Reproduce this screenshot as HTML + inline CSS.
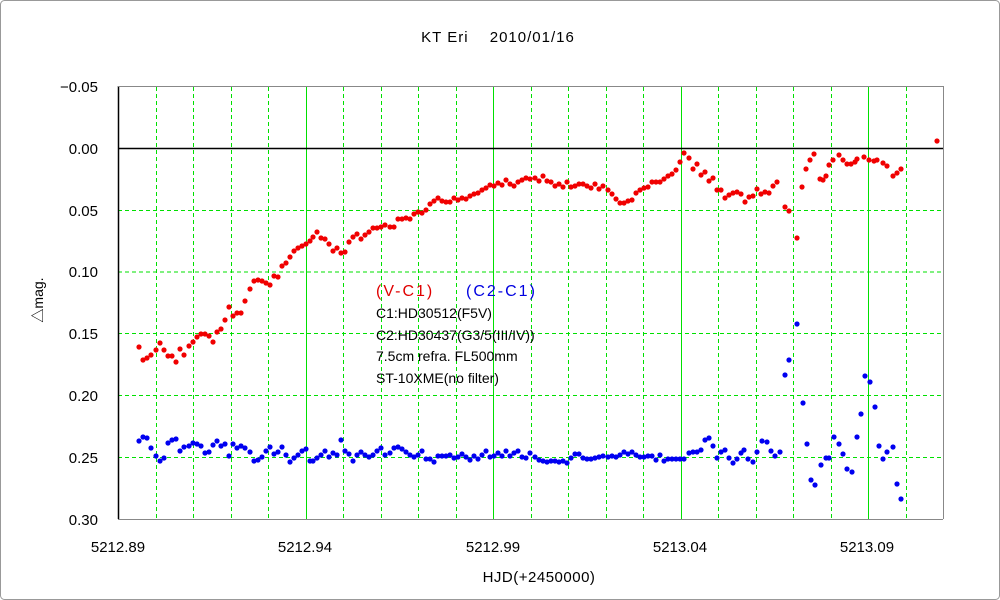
<!DOCTYPE html>
<html><head><meta charset="utf-8"><style>
body{margin:0;background:#fff}
svg{display:block;font-family:"Liberation Sans","Noto Sans CJK JP",sans-serif}
</style></head><body>
<svg id="s" width="1000" height="600" xmlns="http://www.w3.org/2000/svg">
<rect x="0.5" y="0.5" width="999" height="599" rx="4" fill="#fff" stroke="#999"/>
<g id="grid"></g>
<line x1="118" y1="148.5" x2="943" y2="148.5" stroke="#000" stroke-width="1.5"/>
<line x1="118.5" y1="86" x2="118.5" y2="519" stroke="#000" stroke-width="1.5"/>
<line x1="118" y1="86.5" x2="943" y2="86.5" stroke="#888"/>
<line x1="943.5" y1="86" x2="943.5" y2="519" stroke="#888"/>
<line x1="118" y1="519.5" x2="943" y2="519.5" stroke="#888"/>
<g id="pts"></g>
<g font-size="15" fill="#000">
<text x="498" y="42" text-anchor="middle" letter-spacing="1">KT Eri　 2010/01/16</text>
<g text-anchor="end">
<text x="98" y="92">−0.05</text><text x="98" y="154">0.00</text><text x="98" y="216">0.05</text>
<text x="98" y="277">0.10</text><text x="98" y="339">0.15</text><text x="98" y="401">0.20</text>
<text x="98" y="463">0.25</text><text x="98" y="525">0.30</text></g>
<g text-anchor="middle">
<text x="118" y="552">5212.89</text><text x="305" y="552">5212.94</text><text x="493" y="552">5212.99</text>
<text x="680" y="552">5213.04</text><text x="867" y="552">5213.09</text>
<text x="539" y="582" letter-spacing="0.5">HJD(+2450000)</text></g>
<text transform="translate(43,300) rotate(-90)" text-anchor="middle" font-size="14">△mag.</text>
<text x="376" y="296" fill="#e00000" font-size="16" letter-spacing="2">(V-C1)</text>
<text x="466" y="296" fill="#0000e0" font-size="16" letter-spacing="2">(C2-C1)</text>
<text x="376" y="318" font-size="14">C1:HD30512(F5V)</text>
<text x="376" y="340" font-size="14">C2:HD30437(G3/5(III/IV))</text>
<text x="376" y="361" font-size="14">7.5cm refra. FL500mm</text>
<text x="376" y="383" font-size="14">ST-10XME(no filter)</text>
</g>
</svg>
<script>
var NS="http://www.w3.org/2000/svg",g=document.getElementById("grid"),p=document.getElementById("pts");
function L(a,b,c,d,col,dash){var l=document.createElementNS(NS,"line");l.setAttribute("x1",a);l.setAttribute("y1",b);l.setAttribute("x2",c);l.setAttribute("y2",d);l.setAttribute("stroke",col);if(dash)l.setAttribute("stroke-dasharray","4,3");g.appendChild(l);}
for(var i=1;i<22;i++){var x=Math.round(118+i*37.5)+0.5;var maj=(i%5==0);L(x,87,x,519,"#00e000",!maj);}
[210,271.5,333,395,457].forEach(function(y){L(118,y+0.5,943,y+0.5,"#00e000",true);});
var red=[[139,347],[143,360],[147,358],[151,355],[156,350],[160,343],[164,350],[168,356],[172,356],[176,362],[180,349],[184,355],[189,346],[193,342],[197,337],[201,334],[205,334],[209,336],[213,342],[217,332],[221,329],[225,320],[229,307],[233,316],[237,313],[241,313],[245,301],[250,289],[254,281],[258,280],[262,281],[266,283],[270,285],[274,276],[278,277],[282,266],[286,263],[290,257],[294,251],[298,248],[302,246],[306,244],[310,241],[313,237],[317,232],[321,238],[325,239],[329,244],[333,251],[337,248],[341,253],[345,252],[349,242],[353,237],[357,234],[361,239],[365,235],[369,232],[373,228],[377,228],[381,227],[385,225],[390,227],[394,227],[398,219],[402,219],[406,218],[410,219],[414,214],[418,212],[422,213],[426,210],[430,204],[434,201],[438,198],[442,201],[446,202],[450,202],[454,198],[458,200],[462,198],[466,199],[470,196],[474,194],[478,193],[482,190],[486,188],[490,185],[494,186],[498,183],[502,185],[506,180],[510,184],[514,186],[518,182],[522,180],[526,178],[530,179],[535,178],[539,181],[543,176],[547,181],[551,182],[555,186],[559,184],[563,187],[567,182],[571,187],[575,186],[579,184],[583,184],[587,186],[591,188],[595,184],[599,189],[603,186],[608,190],[612,194],[616,199],[620,203],[624,203],[628,201],[632,200],[636,193],[640,190],[644,188],[648,187],[652,182],[656,182],[660,182],[664,179],[668,176],[672,174],[676,170],[680,162],[684,153],[689,158],[693,169],[697,164],[701,175],[705,172],[709,181],[713,178],[717,190],[721,190],[725,198],[729,195],[733,193],[737,192],[741,194],[745,202],[749,197],[753,196],[757,189],[761,194],[765,192],[769,193],[773,186],[777,182],[785,207],[789,211],[797,238],[802,187],[806,169],[810,160],[814,154],[820,179],[823,180],[826,176],[829,165],[833,160],[839,155],[843,160],[847,164],[851,164],[855,162],[857,159],[864,157],[869,160],[874,161],[877,160],[883,163],[887,166],[893,176],[897,173],[901,169],[937,141]];
var blue=[[139,441],[143,437],[147,438],[151,448],[156,456],[160,461],[164,458],[168,443],[172,440],[176,439],[180,451],[184,447],[189,446],[193,443],[197,444],[201,446],[205,453],[209,452],[213,445],[217,441],[221,446],[225,444],[229,456],[233,444],[237,448],[241,446],[245,448],[250,452],[254,461],[258,460],[262,457],[266,451],[270,447],[274,454],[278,452],[282,447],[286,455],[290,462],[294,458],[298,455],[302,451],[306,449],[310,461],[313,461],[317,458],[321,455],[325,451],[329,457],[333,453],[337,455],[341,440],[345,451],[349,454],[353,461],[357,455],[361,452],[365,455],[369,457],[373,455],[377,451],[381,448],[385,455],[390,453],[394,448],[398,447],[402,449],[406,452],[410,455],[414,457],[418,455],[422,451],[426,459],[430,459],[434,462],[438,456],[442,456],[446,456],[450,455],[454,458],[458,457],[462,454],[466,457],[470,460],[474,456],[478,459],[482,455],[486,451],[490,457],[494,456],[498,453],[502,456],[506,451],[510,456],[514,453],[518,451],[522,457],[526,458],[530,453],[535,457],[539,460],[543,461],[547,462],[551,461],[555,461],[559,462],[563,461],[567,463],[571,458],[575,454],[579,454],[583,458],[587,459],[591,459],[595,458],[599,457],[603,456],[608,457],[612,456],[616,457],[620,455],[624,452],[628,454],[632,452],[636,455],[640,457],[644,457],[648,456],[652,456],[656,460],[660,455],[664,461],[668,459],[672,459],[676,459],[680,459],[684,459],[689,453],[693,452],[697,452],[701,450],[705,440],[709,438],[713,446],[717,458],[721,452],[725,450],[729,458],[733,463],[737,459],[741,453],[744,450],[748,459],[753,462],[757,452],[762,441],[767,442],[771,451],[775,456],[780,452],[785,375],[789,360],[797,324],[803,403],[807,444],[811,480],[815,485],[821,465],[826,458],[829,458],[834,437],[839,444],[843,454],[847,469],[852,472],[857,437],[861,414],[865,376],[870,382],[875,407],[879,446],[883,459],[887,452],[893,447],[897,484],[901,499]];
function D(a,col){a.forEach(function(q){var c=document.createElementNS(NS,"circle");c.setAttribute("cx",q[0]);c.setAttribute("cy",q[1]);c.setAttribute("r",2.6);c.setAttribute("fill",col);p.appendChild(c);});}
D(red,"#f00000");D(blue,"#0000f0");
</script>
</body></html>
